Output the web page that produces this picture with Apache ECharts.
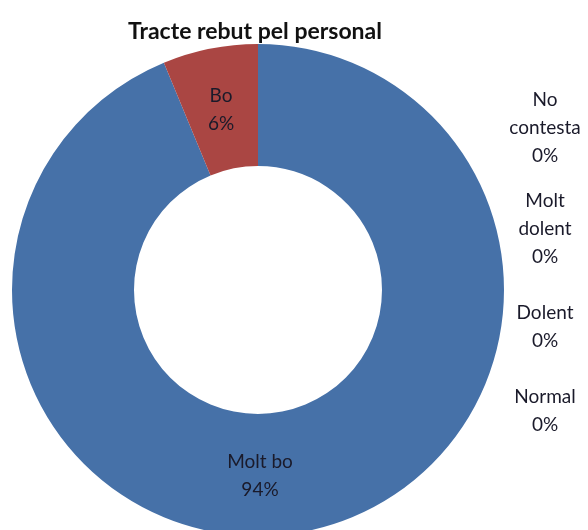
<!DOCTYPE html>
<html>
<head>
<meta charset="utf-8">
<script src="https://cdn.jsdelivr.net/npm/echarts@6/dist/echarts.min.js"></script>
<style>html,body{margin:0;padding:0;background:#fff}#c{width:588px;height:530px}</style>
</head>
<body>
<div id="c"></div>
<script>
const title = 'Tracte rebut pel personal';
const categories = ['Molt bo', 'Bo', 'Normal', 'Dolent', 'Molt dolent', 'No contesta'];
const labelNames = ['Molt bo', 'Bo', 'Normal', 'Dolent', 'Molt\ndolent', 'No\ncontesta'];
const values = [15, 1, 0, 0, 0, 0];
const colors = ['#4671A8', '#AA4643', '#89A54E', '#71588F', '#4198AF', '#DB843D'];

// label anchor positions (chart pixel coordinates)
const labelPos = [[260, 476], [221, 110], [545, 411], [545, 327], [545, 229], [545, 128]];

const chart = echarts.init(document.getElementById('c'));
chart.setOption({
  animation: false,
  title: {
    text: title, left: 250, top: 15, textAlign: 'center',
    textStyle: { fontFamily: 'Lato', fontWeight: 'bold', fontSize: 23, color: '#111' }
  },
  series: [{
    type: 'pie',
    center: [258, 290],
    radius: [124, 246],
    startAngle: 90,
    clockwise: true,
    avoidLabelOverlap: false,
    stillShowZeroSum: true,
    minShowLabelAngle: 0,
    itemStyle: { borderWidth: 0 },
    label: {
      show: true, position: 'inside',
      fontFamily: 'Lato', fontSize: 19, lineHeight: 28, color: '#1a1a2a', align: 'center',
      formatter: p => labelNames[p.dataIndex] + '\n' + Math.round(p.percent) + '%'
    },
    labelLine: { show: false },
    labelLayout: p => ({ x: labelPos[p.dataIndex][0], y: labelPos[p.dataIndex][1], align: 'center', verticalAlign: 'middle' }),
    emphasis: { disabled: true },
    data: categories.map((c, i) => ({ name: c, value: values[i], itemStyle: { color: colors[i] } }))
  }]
});
</script>
</body>
</html>
